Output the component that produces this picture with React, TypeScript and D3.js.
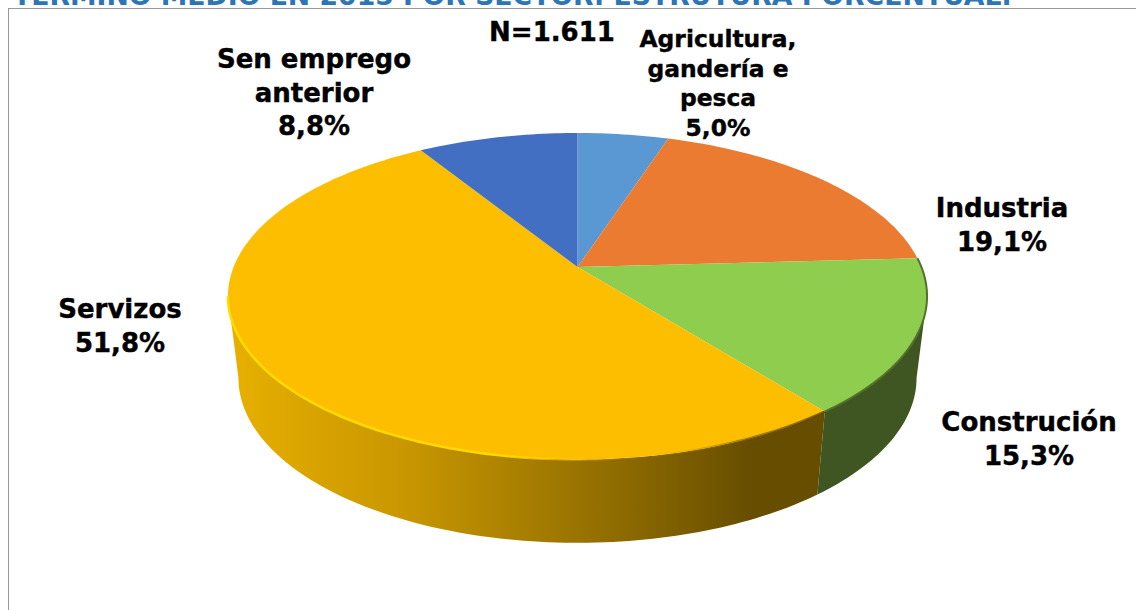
import React from "react";
import * as d3 from "d3";

const sectors = ["Agricultura, gandería e pesca", "Industria", "Construción", "Servizos", "Sen emprego anterior"];
const shares = [5.0, 19.1, 15.3, 51.8, 8.8];
const topColors = ["#5a98d3", "#ea7b30", "#8ecd4e", "#fdbe00", "#426fc1"];
const labelLines = [
  ["Agricultura,", "gandería e", "pesca", "5,0%"],
  ["Industria", "19,1%"],
  ["Construción", "15,3%"],
  ["Servizos", "51,8%"],
  ["Sen emprego", "anterior", "8,8%"],
];
const labelCenters = [
  [718, 47],
  [1002, 217],
  [1029, 431],
  [120, 318],
  [314, 68],
];
const labelSizes = [23.4, 26, 26, 26, 26];
const titleText = "TÉRMINO MEDIO EN 2015 POR SECTOR. ESTRUTURA PORCENTUAL.";
const nText = "N=1.611";

const cx = 577.5;
const cy = 267;
const radiusX = 343.9;
const radiusY = 158;
const persp = 0.179;
const depth = 81.5;
const shrinkX = 0.97;
const shrinkY = 1.01;
const font = "'DejaVu Sans', Verdana, sans-serif";

// tilted disc -> screen, with a little perspective
const project = (angle: number, lower = false): [number, number] => {
  const u = Math.sin(angle);
  const v = -Math.cos(angle);
  const w = 1 - persp * v;
  const sx = lower ? shrinkX : 1;
  const sy = lower ? shrinkY : 1;
  return [cx + (sx * radiusX * u) / w, cy + (lower ? depth : 0) + (sy * radiusY * v) / w];
};

const arcPoints = (a0: number, a1: number, lower = false) => {
  const n = Math.max(2, Math.ceil(Math.abs(a1 - a0) / 0.02));
  return d3.range(n + 1).map((i) => project(a0 + ((a1 - a0) * i) / n, lower));
};

const line = d3.line();

export default function App() {
  const pie = d3.pie<number>().sort(null)(shares);
  const seam = pie[2].endAngle;
  // silhouette of the tilted disc, where the side wall starts
  const right = Math.acos(-persp);
  const left = 2 * Math.PI - right;

  const greenSide = [...arcPoints(right, seam), ...arcPoints(seam, right, true)] as [number, number][];
  const yellowSide = [...arcPoints(seam, left), ...arcPoints(left, seam, true)] as [number, number][];

  return (
    <svg width={1136} height={610} style={{ position: "absolute", left: 0, top: 0 }}>
      <defs>
        <linearGradient id="sideYellow" gradientUnits="userSpaceOnUse" x1={228} x2={825} y1={0} y2={0}>
          <stop offset="0" stopColor="#e8b000" />
          <stop offset="0.3" stopColor="#c89600" />
          <stop offset="0.65" stopColor="#8f6c00" />
          <stop offset="0.88" stopColor="#664d00" />
          <stop offset="1" stopColor="#664d00" />
        </linearGradient>
        <linearGradient id="rim" gradientUnits="userSpaceOnUse" x1={228} x2={825} y1={0} y2={0}>
          <stop offset="0" stopColor="#ffdc00" />
          <stop offset="0.45" stopColor="#ffd800" />
          <stop offset="0.7" stopColor="#fdbe00" stopOpacity={0} />
          <stop offset="0.85" stopColor="#805f00" stopOpacity={0.6} />
          <stop offset="1" stopColor="#5a4400" stopOpacity={0.8} />
        </linearGradient>
        <filter id="soft" x="-5%" y="-5%" width="110%" height="110%">
          <feGaussianBlur stdDeviation="0.7" />
        </filter>
      </defs>

      <text x={13} y={4.5} fontFamily={font} fontWeight="bold" fontSize={26.7} fill="#2e75b6">
        {titleText}
      </text>
      <rect x={8.5} y={8.5} width={1140} height={620} fill="#fff" stroke="#999" />

      <path d={line(greenSide) + "Z"} fill="#3f5522" />
      <path d={line(yellowSide) + "Z"} fill="url(#sideYellow)" />

      {pie.map((d, i) => (
        <path
          key={sectors[i]}
          d={line([[cx, cy], ...arcPoints(d.startAngle, d.endAngle)] as [number, number][]) + "Z"}
          fill={topColors[i]}
        />
      ))}

      <path
        d={line(arcPoints(seam, left)) ?? ""}
        fill="none"
        stroke="url(#rim)"
        strokeWidth={2.5}
        filter="url(#soft)"
      />
      <path
        d={line(arcPoints(pie[1].endAngle, seam)) ?? ""}
        fill="none"
        stroke="#55702f"
        strokeWidth={2}
        filter="url(#soft)"
      />

      <text
        x={552}
        y={41}
        textAnchor="middle"
        fontFamily={font}
        fontWeight="bold"
        fontSize={26}
        stroke="#000"
        strokeWidth={0.4}
      >
        {nText}
      </text>
      {labelLines.map((lines, i) => (
        <text
          key={sectors[i]}
          textAnchor="middle"
          fontFamily={font}
          fontWeight="bold"
          fontSize={labelSizes[i]}
          fill="#000"
          stroke="#000"
          strokeWidth={0.4}
        >
          {lines.map((t, j) => (
            <tspan
              key={t}
              x={labelCenters[i][0]}
              y={labelCenters[i][1] + j * (i === 0 ? 29.5 : 33.5)}
            >
              {t}
            </tspan>
          ))}
        </text>
      ))}
    </svg>
  );
}
